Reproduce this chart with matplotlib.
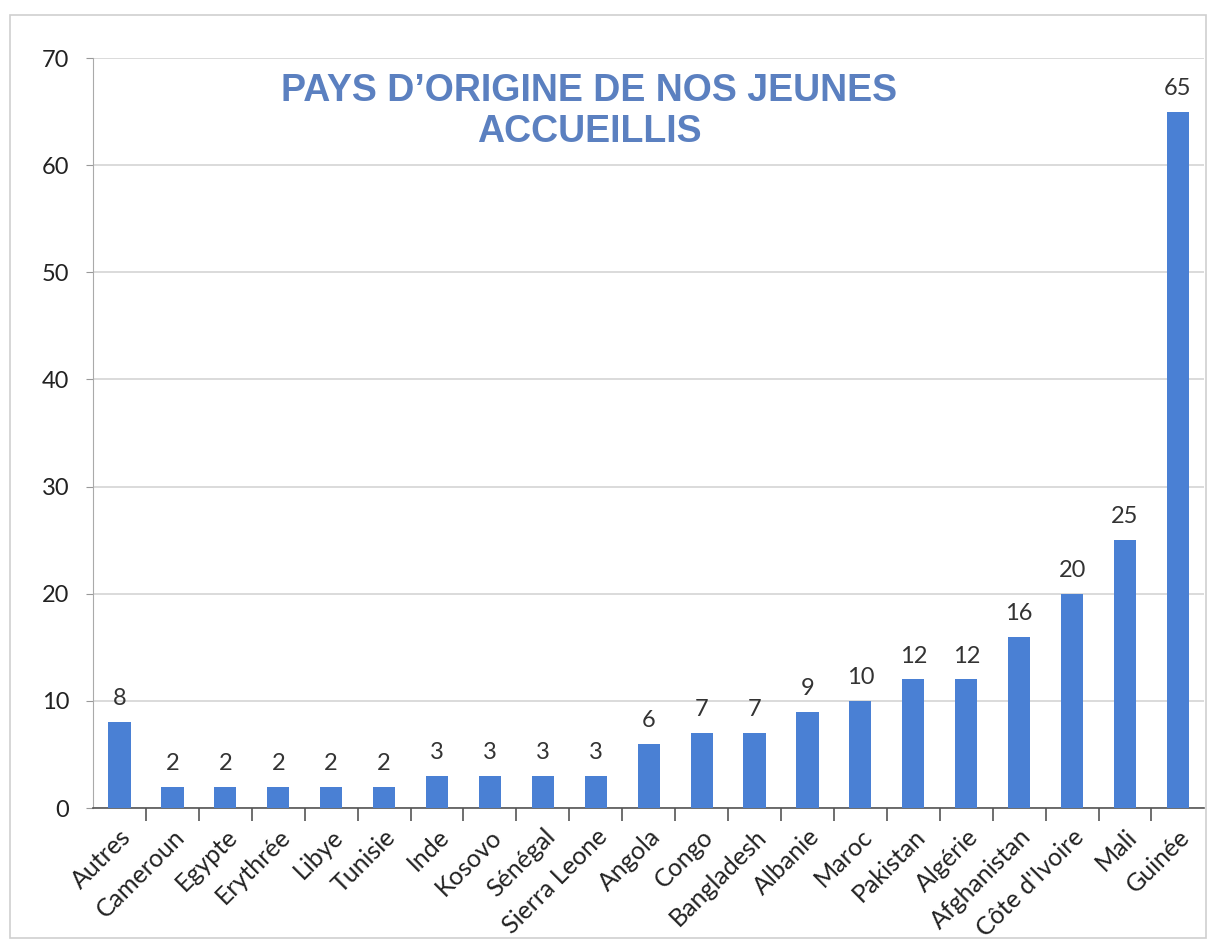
import matplotlib.pyplot as plt
from matplotlib.patches import Rectangle

# data
pays = ["Autres", "Cameroun", "Egypte", "Erythrée", "Libye", "Tunisie", "Inde",
        "Kosovo", "Sénégal", "Sierra Leone", "Angola", "Congo", "Bangladesh",
        "Albanie", "Maroc", "Pakistan", "Algérie", "Afghanistan",
        "Côte d'Ivoire", "Mali", "Guinée"]
jeunes = [8, 2, 2, 2, 2, 2, 3, 3, 3, 3, 6, 7, 7, 9, 10, 12, 12, 16, 20, 25, 65]
yticks = [0, 10, 20, 30, 40, 50, 60, 70]

plt.rcParams['font.family'] = ['Lato', 'DejaVu Sans']

fig = plt.figure(figsize=(12.08, 9.44), dpi=100)
fig.patches.append(Rectangle((0.008, 0.006), 0.99, 0.978, transform=fig.transFigure,
                             fill=False, edgecolor='#cfcfcf', linewidth=1.2))
ax = fig.add_axes([0.077, 0.144, 0.92, 0.7945])

x = range(len(pays))
bars = ax.bar(x, jeunes, width=0.42, color='#4a80d4', zorder=3)
for b, v in zip(bars, jeunes):
    ax.text(b.get_x() + b.get_width() / 2, v + 1.2, str(v), ha='center', va='bottom',
            fontsize=17, color='#333333', zorder=4)

ax.set_xlim(-0.5, len(pays) - 0.5)
ax.set_ylim(0, 70)
ax.set_yticks(yticks)
ax.tick_params(axis='y', labelsize=17, length=5, color='#999999', pad=12, labelcolor='#222222')
ax.yaxis.grid(True, color='#d4d4d4', linewidth=1.2, zorder=0)

ax.set_xticks(list(x))
ax.set_xticklabels(pays, rotation=45, ha='right', rotation_mode='anchor', fontsize=18,
                   color='#222222')
ax.tick_params(axis='x', which='major', length=0, pad=12)
ax.set_xticks([i + 0.5 for i in range(len(pays) - 1)], minor=True)
ax.tick_params(axis='x', which='minor', length=9, color='#555555', width=1.2)

for s in ['top', 'right']:
    ax.spines[s].set_visible(False)
ax.spines['left'].set_color('#aaaaaa')
ax.spines['bottom'].set_color('#555555')
ax.spines['bottom'].set_linewidth(1.2)

fig.text(0.488, 0.882, "PAYS D\u2019ORIGINE DE NOS JEUNES\nACCUEILLIS", ha='center', va='center',
         fontsize=27, fontweight='bold', color='#5b80c0', family='Liberation Sans',
         linespacing=1.2)

fig.savefig('out.png', dpi=100)
